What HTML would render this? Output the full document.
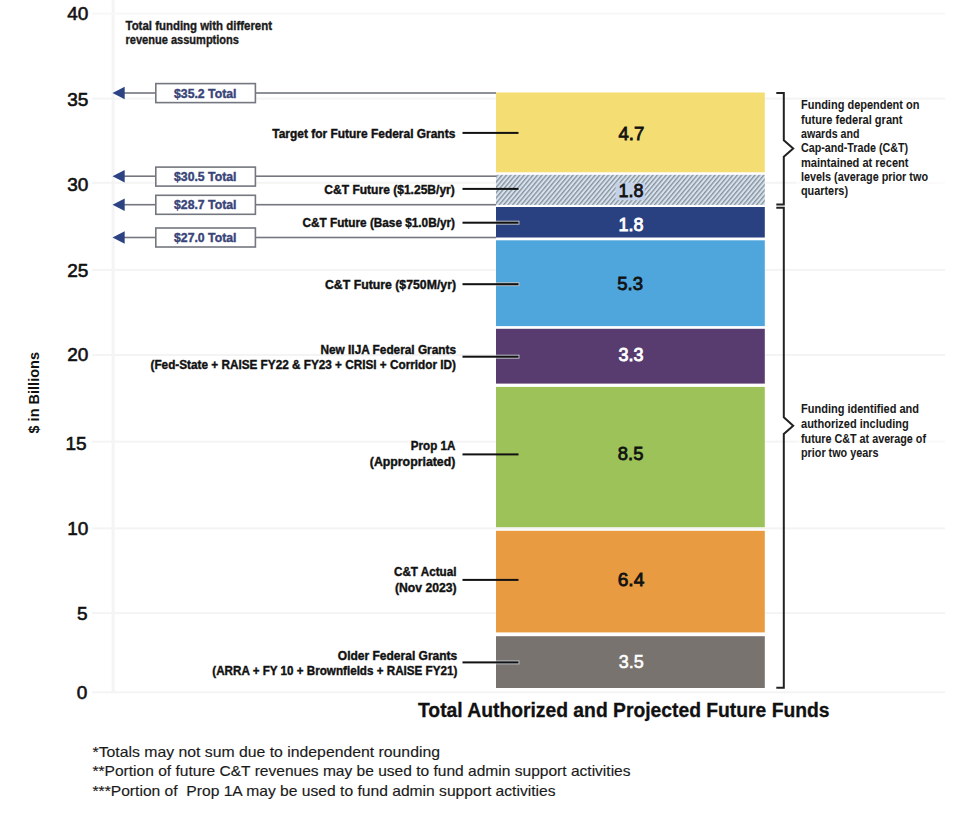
<!DOCTYPE html>
<html><head><meta charset="utf-8">
<style>
html,body{margin:0;padding:0;background:#fff;}
body{width:960px;height:813px;overflow:hidden;position:relative;}
svg{position:absolute;left:0;top:0;}
text{font-family:"Liberation Sans",sans-serif;}
.b{font-weight:bold;}
</style></head><body>
<svg width="960" height="813" viewBox="0 0 960 813">
<defs>
<pattern id="hatch" patternUnits="userSpaceOnUse" width="3.4" height="3.4" patternTransform="rotate(40)">
<rect width="3.4" height="3.4" fill="#d6e2ee"/>
<rect width="1.35" height="3.4" fill="#87919c"/>
</pattern>
</defs>
<!-- grid -->
<g fill="#f4f4f4">
<rect x="111.6" y="0" width="3" height="693"/>
<rect x="92" y="12.6" width="853" height="2.2" fill="#f8f8f8"/>
<rect x="92" y="97.6" width="853" height="2"/>
<rect x="92" y="181.8" width="853" height="2"/>
<rect x="92" y="268.9" width="853" height="2"/>
<rect x="92" y="354" width="853" height="2"/>
<rect x="92" y="440.6" width="853" height="2"/>
<rect x="92" y="527.4" width="853" height="2"/>
<rect x="92" y="612.1" width="853" height="2"/>
<rect x="92" y="691.3" width="853" height="2"/>
</g>
<!-- tick labels -->
<g font-size="19" fill="#111" text-anchor="end" stroke="#111" stroke-width="0.6">
<text x="88.3" y="19.8">40</text>
<text x="88.3" y="105.8">35</text>
<text x="88.3" y="190.5">30</text>
<text x="88.3" y="277.1">25</text>
<text x="88.3" y="360.8">20</text>
<text x="86.6" y="449.5">15</text>
<text x="88.3" y="535.1">10</text>
<text x="87.6" y="619.5">5</text>
<text x="87.4" y="699.1">0</text>
</g>
<text class="b" font-size="15" fill="#111" transform="translate(39.1,433.5) rotate(-90)" textLength="81.5" lengthAdjust="spacingAndGlyphs">$ in Billions</text>

<!-- top-left title -->
<g class="b" font-size="12.4" fill="#1a1a1a" stroke="#1a1a1a" stroke-width="0.35">
<text x="125.5" y="30" textLength="146.5" lengthAdjust="spacingAndGlyphs">Total funding with different</text>
<text x="125.5" y="44.3" textLength="113.5" lengthAdjust="spacingAndGlyphs">revenue assumptions</text>
</g>

<!-- bars -->
<rect x="496" y="92.5" width="268.8" height="79.8" fill="#f4de74"/>
<rect x="496" y="174.8" width="268.8" height="30.1" fill="url(#hatch)"/>
<rect x="496" y="207" width="268.8" height="30.5" fill="#2a4181"/>
<rect x="496" y="240.3" width="268.8" height="85.8" fill="#4ea6dd"/>
<rect x="496" y="328.8" width="268.8" height="54.8" fill="#583c6f"/>
<rect x="496" y="386.9" width="268.8" height="140.3" fill="#9cc259"/>
<rect x="496" y="530.8" width="268.8" height="101.6" fill="#e99b41"/>
<rect x="496" y="636.2" width="268.8" height="51.8" fill="#79736f"/>

<!-- total lines -->
<g fill="#74777f">
<rect x="120" y="92.2" width="376" height="1.6"/>
<rect x="120" y="175.4" width="376" height="1.6"/>
<rect x="120" y="203.9" width="376" height="1.6"/>
<rect x="120" y="236.7" width="376" height="1.6"/>
</g>
<g fill="#2c4282">
<path d="M112.5 93 L124.7 86.7 L124.7 99.3 Z"/>
<path d="M112.5 176.2 L124.7 169.9 L124.7 182.5 Z"/>
<path d="M112.5 204.7 L124.7 198.4 L124.7 211 Z"/>
<path d="M112.5 237.5 L124.7 231.2 L124.7 243.8 Z"/>
</g>
<g fill="#fff" stroke="#74777f" stroke-width="1.6">
<rect x="155.8" y="83.6" width="99.6" height="19"/>
<rect x="155.8" y="167.1" width="99.6" height="19"/>
<rect x="155.8" y="195.3" width="99.6" height="19"/>
<rect x="155.8" y="228" width="99.6" height="19"/>
</g>
<g class="b" font-size="13.4" fill="#394478" stroke="#394478" stroke-width="0.4">
<text x="174" y="97.6" textLength="62.5" lengthAdjust="spacingAndGlyphs">$35.2 Total</text>
<text x="174" y="181.2" textLength="62.5" lengthAdjust="spacingAndGlyphs">$30.5 Total</text>
<text x="174" y="209.3" textLength="62.5" lengthAdjust="spacingAndGlyphs">$28.7 Total</text>
<text x="174" y="242" textLength="62.5" lengthAdjust="spacingAndGlyphs">$27.0 Total</text>
</g>

<!-- leader halos -->
<g fill="#b8bcc4" opacity="1.3">
<rect x="496" y="220.7" width="23.5" height="4"/>
<rect x="496" y="282.2" width="23.5" height="4"/>
<rect x="496" y="354.7" width="23.5" height="4"/>
<rect x="496" y="660.4" width="23.5" height="4"/>
</g>
<!-- leader lines -->
<g fill="#111">
<rect x="462.5" y="131.9" width="56" height="2"/>
<rect x="462.5" y="187.9" width="56" height="2"/>
<rect x="462.5" y="221.7" width="56" height="2"/>
<rect x="462.5" y="283.2" width="56" height="2"/>
<rect x="462.5" y="355.7" width="56" height="2"/>
<rect x="462.5" y="453.4" width="56" height="2"/>
<rect x="462.5" y="578.9" width="56" height="2"/>
<rect x="462.5" y="661.4" width="56" height="2"/>
</g>

<!-- left labels -->
<g class="b" font-size="12.6" fill="#111" text-anchor="end" stroke="#111" stroke-width="0.4">
<text x="455.3" y="137.8" textLength="183" lengthAdjust="spacingAndGlyphs">Target for Future Federal Grants</text>
<text x="454.8" y="194.3" textLength="130.5" lengthAdjust="spacingAndGlyphs">C&amp;T Future ($1.25B/yr)</text>
<text x="455" y="227.3" textLength="152.5" lengthAdjust="spacingAndGlyphs">C&amp;T Future (Base $1.0B/yr)</text>
<text x="456" y="289.3" textLength="131" lengthAdjust="spacingAndGlyphs">C&amp;T Future ($750M/yr)</text>
<text x="456" y="353.8" textLength="135.5" lengthAdjust="spacingAndGlyphs">New IIJA Federal Grants</text>
<text x="456" y="369.0" textLength="305.5" lengthAdjust="spacingAndGlyphs">(Fed-State + RAISE FY22 &amp; FY23 + CRISI + Corridor ID)</text>
<text x="455.3" y="450.4" textLength="44.5" lengthAdjust="spacingAndGlyphs">Prop 1A</text>
<text x="455.3" y="466.1" textLength="85.5" lengthAdjust="spacingAndGlyphs">(Appropriated)</text>
<text x="456.5" y="576.1" textLength="62.5" lengthAdjust="spacingAndGlyphs">C&amp;T Actual</text>
<text x="456.5" y="591.5" textLength="61.5" lengthAdjust="spacingAndGlyphs">(Nov 2023)</text>
<text x="457.3" y="659.5" textLength="119.5" lengthAdjust="spacingAndGlyphs">Older Federal Grants</text>
<text x="457.3" y="675.4" textLength="245" lengthAdjust="spacingAndGlyphs">(ARRA + FY 10 + Brownfields + RAISE FY21)</text>
</g>

<!-- bar values -->
<rect x="615.6" y="182.7" width="29.2" height="17.4" fill="#c4d2e9"/>
<g font-size="19" text-anchor="middle" stroke-width="0.8" lengthAdjust="spacingAndGlyphs">
<text x="631.4" y="140.2" fill="#111" stroke="#111" textLength="25.8" lengthAdjust="spacingAndGlyphs">4.7</text>
<text x="631" y="197.2" fill="#111" stroke="#111" textLength="25" lengthAdjust="spacingAndGlyphs">1.8</text>
<text x="631" y="231" fill="#fff" stroke="#fff" stroke-width="0.9" textLength="25" lengthAdjust="spacingAndGlyphs">1.8</text>
<text x="630.1" y="290.2" fill="#111" stroke="#111" textLength="25.8" lengthAdjust="spacingAndGlyphs">5.3</text>
<text x="631" y="361" fill="#fff" stroke="#fff" font-weight="normal" stroke-width="0.9" textLength="25" lengthAdjust="spacingAndGlyphs">3.3</text>
<text x="630.6" y="460.2" fill="#111" stroke="#111" textLength="25.6" lengthAdjust="spacingAndGlyphs">8.5</text>
<text x="631" y="585.6" fill="#111" stroke="#111" textLength="26.6" lengthAdjust="spacingAndGlyphs">6.4</text>
<text x="631.2" y="667.8" fill="#fff" stroke="#fff" font-weight="normal" stroke-width="0.6" textLength="25" lengthAdjust="spacingAndGlyphs">3.5</text>
</g>

<!-- brackets -->
<g fill="none" stroke="#222" stroke-width="2">
<path d="M776.3 93 H783.8 V140.3 L793.2 148.5 L783.8 156.8 V204.4 H776.3"/>
<path d="M776.3 207.8 H783.8 V417.3 L793.2 425.7 L783.8 434 V687.8 H776.3"/>
</g>

<!-- right annotations -->
<rect x="796" y="101" width="150" height="100" fill="#fff" opacity="0.6"/>
<rect x="796" y="402" width="150" height="60" fill="#fff" opacity="0.4"/>
<g class="b" font-size="11.9" fill="#1a1a1a" stroke="#1a1a1a" stroke-width="0.05">
<text x="801" y="109.2" textLength="118.5" lengthAdjust="spacingAndGlyphs">Funding dependent on</text>
<text x="801" y="123.6" textLength="101.5" lengthAdjust="spacingAndGlyphs">future federal grant</text>
<text x="801" y="137.9" textLength="58.5" lengthAdjust="spacingAndGlyphs">awards and</text>
<text x="801" y="152.2" textLength="107" lengthAdjust="spacingAndGlyphs">Cap-and-Trade (C&amp;T)</text>
<text x="801" y="166.6" textLength="107.5" lengthAdjust="spacingAndGlyphs">maintained at recent</text>
<text x="801" y="180.9" textLength="127" lengthAdjust="spacingAndGlyphs">levels (average prior two</text>
<text x="801" y="195.3" textLength="47" lengthAdjust="spacingAndGlyphs">quarters)</text>
<text x="801" y="413" textLength="118" lengthAdjust="spacingAndGlyphs">Funding identified and</text>
<text x="801" y="427.9" textLength="107.8" lengthAdjust="spacingAndGlyphs">authorized including</text>
<text x="801" y="442.5" textLength="125" lengthAdjust="spacingAndGlyphs">future C&amp;T at average of</text>
<text x="801" y="457.4" textLength="77.4" lengthAdjust="spacingAndGlyphs">prior two years</text>
</g>

<!-- x title -->
<text class="b" x="418" y="716.5" font-size="20" fill="#111" stroke="#111" stroke-width="0.3" textLength="411.5" lengthAdjust="spacingAndGlyphs">Total Authorized and Projected Future Funds</text>

<!-- footnotes -->
<g font-size="15" fill="#1a1a1a" stroke="#1a1a1a" stroke-width="0.15">
<text x="92.5" y="756.6" textLength="347.5" lengthAdjust="spacingAndGlyphs">*Totals may not sum due to independent rounding</text>
<text x="92.5" y="776.1" textLength="538" lengthAdjust="spacingAndGlyphs">**Portion of future C&amp;T revenues may be used to fund admin support activities</text>
<text x="92.5" y="795.9" textLength="463" lengthAdjust="spacingAndGlyphs">***Portion of&#160; Prop 1A may be used to fund admin support activities</text>
</g>
</svg>
</body></html>
